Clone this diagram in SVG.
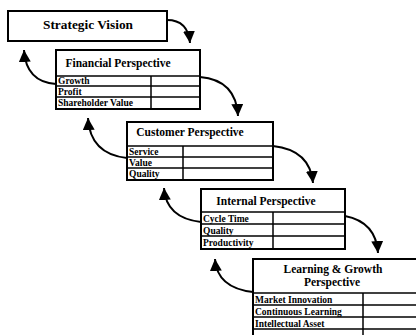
<svg xmlns="http://www.w3.org/2000/svg" width="416" height="335" viewBox="0 0 416 335">
<defs>
<style>
.box{fill:#fff;stroke:#000;stroke-width:2}
.ln{stroke:#000;stroke-width:1.5;fill:none}
.t{font-family:"Liberation Serif",serif;font-weight:bold;font-size:11.5px;fill:#000;text-anchor:middle}
.r{font-family:"Liberation Serif",serif;font-weight:bold;font-size:9.5px;fill:#000}
.c{stroke:#000;stroke-width:2;fill:none;marker-end:url(#ah)}
</style>
<marker id="ah" markerUnits="userSpaceOnUse" markerWidth="12" markerHeight="12" refX="10" refY="5" orient="auto" viewBox="0 0 10 10">
<path d="M0,0 L10,5 L0,10 Z" fill="#000"/>
</marker>
</defs>
<rect width="416" height="335" fill="#fff"/>
<g id="connectors">
<path class="c" d="M167 20 Q188 20 190 43"/>
<path class="c" d="M200 77 Q236 80 238 116"/>
<path class="c" d="M273 146 Q310 150 313 183"/>
<path class="c" d="M345 216 Q376 222 378 253"/>
<path class="c" d="M56 84 Q26 82 24 50"/>
<path class="c" d="M127 158 Q90 154 88 118"/>
<path class="c" d="M201 222 Q166 218 164 188"/>
<path class="c" d="M253 292 Q217 288 215 259"/>
</g>
<g id="strategic-vision">
<rect class="box" x="8" y="11" width="159" height="30"/>
<text class="t" x="88" y="29" textLength="90" lengthAdjust="spacingAndGlyphs">Strategic Vision</text>
</g>
<g id="financial">
<rect class="box" x="56" y="50" width="144" height="59"/>
<line class="ln" x1="56" y1="76" x2="200" y2="76"/>
<line class="ln" x1="56" y1="86" x2="200" y2="86"/>
<line class="ln" x1="56" y1="97" x2="200" y2="97"/>
<line class="ln" x1="151" y1="76" x2="151" y2="109"/>
<text class="t" x="118" y="67">Financial Perspective</text>
<text class="r" x="58" y="84">Growth</text>
<text class="r" x="58" y="94.5">Profit</text>
<text class="r" x="58" y="106">Shareholder Value</text>
</g>
<g id="customer">
<rect class="box" x="127" y="122" width="146" height="58"/>
<line class="ln" x1="127" y1="146" x2="273" y2="146"/>
<line class="ln" x1="127" y1="157" x2="273" y2="157"/>
<line class="ln" x1="127" y1="168" x2="273" y2="168"/>
<line class="ln" x1="183" y1="146" x2="183" y2="180"/>
<text class="t" x="190" y="136">Customer Perspective</text>
<text class="r" x="129" y="154.5">Service</text>
<text class="r" x="129" y="165.5">Value</text>
<text class="r" x="129" y="177">Quality</text>
</g>
<g id="internal">
<rect class="box" x="201" y="189" width="144" height="60"/>
<line class="ln" x1="201" y1="212" x2="345" y2="212"/>
<line class="ln" x1="201" y1="224" x2="345" y2="224"/>
<line class="ln" x1="201" y1="236" x2="345" y2="236"/>
<line class="ln" x1="273" y1="212" x2="273" y2="249"/>
<text class="t" x="266" y="205">Internal Perspective</text>
<text class="r" x="203" y="221.5">Cycle Time</text>
<text class="r" x="203" y="233.5">Quality</text>
<text class="r" x="203" y="246">Productivity</text>
</g>
<g id="learning">
<rect class="box" x="253" y="259" width="180" height="85"/>
<line class="ln" x1="253" y1="293" x2="416" y2="293"/>
<line class="ln" x1="253" y1="305" x2="416" y2="305"/>
<line class="ln" x1="253" y1="317" x2="416" y2="317"/>
<line class="ln" x1="253" y1="329" x2="416" y2="329"/>
<line class="ln" x1="363" y1="293" x2="363" y2="335"/>
<text class="t" x="333" y="273">Learning &amp; Growth</text>
<text class="t" x="332" y="286">Perspective</text>
<text class="r" x="255" y="302.5">Market Innovation</text>
<text class="r" x="255" y="314.5">Continuous Learning</text>
<text class="r" x="255" y="326.5">Intellectual Asset</text>
</g>
</svg>
